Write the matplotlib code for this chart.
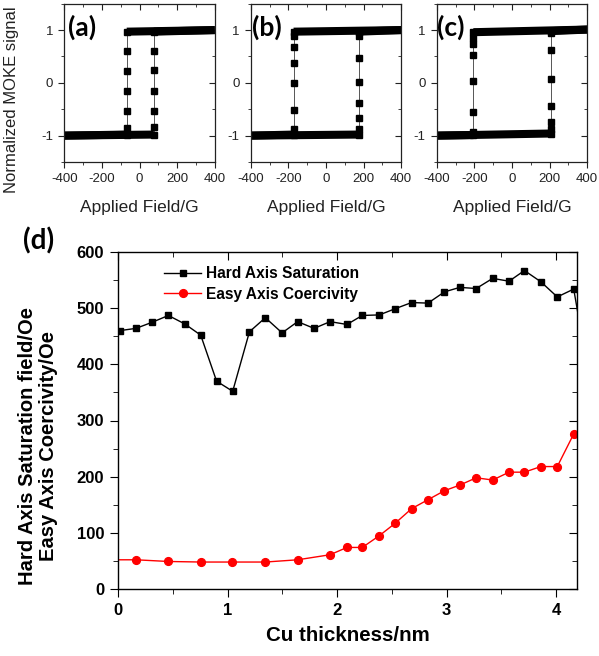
import matplotlib
matplotlib.use('Agg')
import matplotlib.pyplot as plt
from matplotlib.ticker import MultipleLocator

plt.rcParams['font.family'] = ['Liberation Sans', 'DejaVu Sans']
plt.rcParams['axes.unicode_minus'] = False

# --- hysteresis loops (a)-(c): field in G, normalized MOKE signal ---
# descending branch: +400 -> -400, ascending branch: -400 -> +400
a_desc_field = [400, -68, -68, -68, -68, -68, -68, -68, -400]
a_desc_moke = [1.0, 0.97, 0.61, 0.23, -0.16, -0.54, -0.86, -0.98, -1.0]
a_asc_field = [-400, 76, 76, 76, 76, 76, 76, 76, 400]
a_asc_moke = [-1.0, -0.98, -0.84, -0.54, -0.15, 0.25, 0.6, 0.97, 1.0]

b_desc_field = [400, -172, -172, -172, -172, -172, -172, -172, -172, -400]
b_desc_moke = [1.0, 0.97, 0.88, 0.68, 0.38, -0.01, -0.51, -0.87, -0.98, -1.0]
b_asc_field = [-400, 174, 174, 174, 174, 174, 174, 174, 174, 400]
b_asc_moke = [-1.0, -0.98, -0.88, -0.66, -0.38, 0.02, 0.48, 0.89, 0.97, 1.0]

c_desc_field = [400, -205, -205, -205, -205, -205, -205, -205, -205, -400]
c_desc_moke = [1.01, 0.96, 0.85, 0.74, 0.53, 0.03, -0.55, -0.93, -0.99, -1.0]
c_asc_field = [-400, 207, 207, 207, 207, 207, 207, 207, 207, 400]
c_asc_moke = [-1.0, -0.96, -0.87, -0.74, -0.44, 0.07, 0.63, 0.94, 0.98, 1.01]

loop_labels = ['(a)', '(b)', '(c)']

# --- panel (d) ---
hard_x = [0.015, 0.164, 0.313, 0.46, 0.609, 0.755, 0.90, 1.047, 1.2, 1.345,
          1.498, 1.64, 1.79, 1.936, 2.09, 2.23, 2.386, 2.53, 2.68, 2.83,
          2.98, 3.12, 3.27, 3.42, 3.57, 3.71, 3.86, 4.01, 4.16, 4.31]
hard_sat = [460, 464, 475, 487, 472, 452, 370, 352, 458, 483,
            456, 476, 464, 476, 471, 487, 488, 499, 510, 509,
            529, 537, 535, 553, 548, 567, 547, 520, 534, 365]

easy_x = [-0.136, 0.164, 0.46, 0.76, 1.045, 1.345, 1.64, 1.936, 2.09, 2.23,
          2.386, 2.53, 2.68, 2.83, 2.98, 3.12, 3.27, 3.42, 3.57, 3.71,
          3.86, 4.01, 4.16]
easy_coer = [52, 52, 49, 48, 48, 48, 52, 61, 74, 74,
             95, 117, 143, 159, 175, 185, 198, 194, 208, 208,
             218, 218, 276]

fig = plt.figure(figsize=(5.99, 6.56), dpi=100)
W, H = 599.0, 656.0


def set_ticks(ax, tick_len, col):
    # Origin style: bottom/left ticks out, top/right ticks in
    ax.tick_params(which='both', direction='out', top=False, right=False, colors=col)
    ax.tick_params(which='major', length=tick_len)
    ax.tick_params(which='minor', length=tick_len * 0.6)
    top = ax.secondary_xaxis('top')
    top.set_xticks(ax.get_xticks(minor=False))
    top.xaxis.set_minor_locator(ax.xaxis.get_minor_locator())
    top.tick_params(which='both', direction='in', labeltop=False, colors=col)
    top.tick_params(which='major', length=tick_len)
    top.tick_params(which='minor', length=tick_len * 0.6)
    right = ax.secondary_yaxis('right')
    right.yaxis.set_major_locator(ax.yaxis.get_major_locator())
    right.yaxis.set_minor_locator(ax.yaxis.get_minor_locator())
    right.tick_params(which='both', direction='in', labelright=False, colors=col)
    right.tick_params(which='major', length=tick_len)
    right.tick_params(which='minor', length=tick_len * 0.6)
    for sp in list(top.spines.values()) + list(right.spines.values()):
        sp.set_visible(False)


def draw_branch(ax, field, moke):
    ax.plot(field[:2], moke[:2], color='black', lw=5.8, solid_capstyle='butt')
    ax.plot(field[-2:], moke[-2:], color='black', lw=5.8, solid_capstyle='butt')
    ax.plot(field[1:-1], moke[1:-1], color='#555555', lw=0.7,
            marker='s', ms=4.4, mfc='black', mec='black')


loops = [(a_desc_field, a_desc_moke, a_asc_field, a_asc_moke),
         (b_desc_field, b_desc_moke, b_asc_field, b_asc_moke),
         (c_desc_field, c_desc_moke, c_asc_field, c_asc_moke)]
lefts = [64.3, 250.7, 436.7]
label_dx = [0.026, 0.01, 0.002]
for i, (df, dm, af, am) in enumerate(loops):
    ax = fig.add_axes([lefts[i] / W, 1 - 162 / H, 150.5 / W, 158.3 / H])
    draw_branch(ax, df, dm)
    draw_branch(ax, af, am)
    ax.set_xlim(-400, 400)
    ax.set_ylim(-1.5, 1.5)
    ax.xaxis.set_major_locator(MultipleLocator(200))
    ax.xaxis.set_minor_locator(MultipleLocator(100))
    ax.yaxis.set_major_locator(MultipleLocator(1))
    ax.yaxis.set_minor_locator(MultipleLocator(0.5))
    set_ticks(ax, 4, '#222222')
    ax.tick_params(labelsize=9.5, labelcolor='#222222', pad=4)
    for sp in ax.spines.values():
        sp.set_linewidth(0.9)
        sp.set_color('#222222')
    ax.set_xlabel('Applied Field/G', fontsize=12.5, color='#222222', labelpad=11)
    ax.text(label_dx[i], 0.93, loop_labels[i], transform=ax.transAxes, fontsize=19,
            fontweight='bold', family=['Lato', 'DejaVu Sans'], va='top', ha='left')

fig.text(12 / W, 1 - 100 / H, 'Normalized MOKE signal', rotation=90,
         ha='center', va='center', fontsize=12, color='#222222')

# --- panel (d) ---
ax = fig.add_axes([118 / W, 1 - 589 / H, 459 / W, 337 / H])
ax.plot(hard_x, hard_sat, color='black', lw=1.0, marker='s', ms=5,
        label='Hard Axis Saturation')
ax.plot(easy_x, easy_coer, color='red', lw=1.0, marker='o', ms=5.6,
        label='Easy Axis Coercivity')
ax.set_xlim(0, 4.19)
ax.set_ylim(0, 600)
ax.xaxis.set_major_locator(MultipleLocator(1))
ax.xaxis.set_minor_locator(MultipleLocator(0.5))
ax.yaxis.set_major_locator(MultipleLocator(100))
ax.yaxis.set_minor_locator(MultipleLocator(50))
set_ticks(ax, 6, 'black')
ax.tick_params(labelsize=12, pad=4)
for lab in ax.get_xticklabels() + ax.get_yticklabels():
    lab.set_fontweight('bold')
for sp in ax.spines.values():
    sp.set_linewidth(1.0)
ax.set_xlabel('Cu thickness/nm', fontsize=14.8, fontweight='bold', labelpad=6)
fig.text(38 / W, 1 - 446 / H, 'Hard Axis Saturation field/Oe\nEasy Axis Coercivity/Oe',
         rotation=90, ha='center', va='center', multialignment='center',
         fontsize=14.5, fontweight='bold', linespacing=1.15)
ax.legend(loc='upper left', bbox_to_anchor=(0.1, 0.957), frameon=False,
          prop={'weight': 'bold', 'size': 11.2}, handlelength=2.4,
          handletextpad=0.3, labelspacing=0.35, borderpad=0, borderaxespad=0)
fig.text(23 / W, 1 - 241 / H, '(d)', fontsize=20, fontweight='bold',
         family=['Lato', 'DejaVu Sans'], ha='left', va='center')

fig.savefig('out.png', dpi=100)
